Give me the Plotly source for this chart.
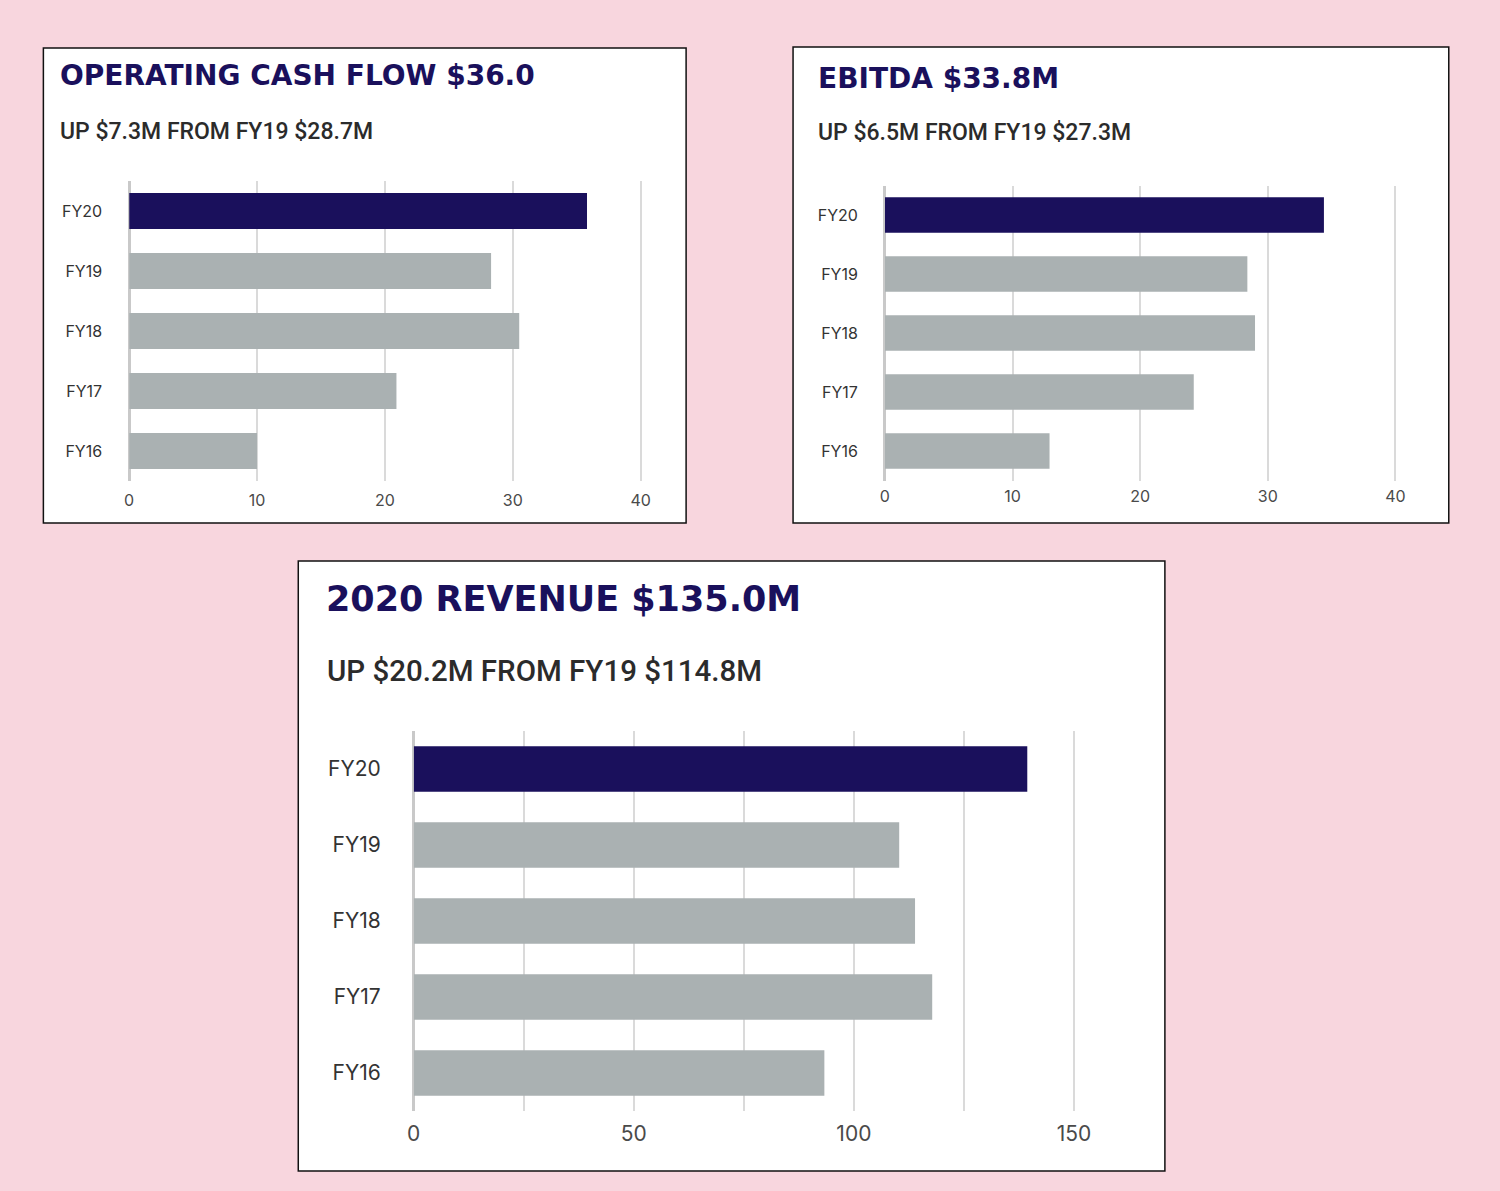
import plotly.graph_objects as go

# data
years = ["FY20", "FY19", "FY18", "FY17", "FY16"]
cash_flow = [35.8, 28.3, 30.5, 20.9, 10.0]
ebitda = [34.4, 28.4, 29.0, 24.2, 12.9]
revenue = [139.4, 110.3, 113.9, 117.8, 93.3]

titles = ["OPERATING CASH FLOW $36.0", "EBITDA $33.8M", "2020 REVENUE $135.0M"]
subtitles = ["UP $7.3M FROM FY19 $28.7M", "UP $6.5M FROM FY19 $27.3M",
             "UP $20.2M FROM FY19 $114.8M"]

# figure sits inside the default 8px body margin
OFF = 8
W, H = 1484, 1172
NAVY = "#1a105c"
GREY = "#aab1b2"
PINK = "#f8d6de"


def px(x):
    # horizontal correction measured from a previous render
    x = (x - 6.7) / 0.9883
    return (x - OFF) / W


def py(y):
    return 1 - (y - OFF) / H


colors = [NAVY] + [GREY] * 4

fig = go.Figure()

panels = [
    # plot area (x at 0, x at max, top, bottom) in window pixels
    dict(vals=cash_flow, area=(128.8, 640.6, 181, 481), box=(43, 48, 686, 523),
         tpos=(58, 76), spos=(58, 131.5), tsize=28, ssize=23, ksize=16,
         xmax=40, tickvals=[0, 10, 20, 30, 40],
         ticktext=["0", "10", "20", "30", "40"], ystand=26, xstand=8),
    dict(vals=ebitda, area=(884.9, 1395.6, 185.5, 480.5), box=(793, 47, 1449, 523),
         tpos=(816, 78), spos=(816, 133), tsize=28, ssize=23, ksize=16,
         xmax=40, tickvals=[0, 10, 20, 30, 40],
         ticktext=["0", "10", "20", "30", "40"], ystand=26, xstand=4),
    dict(vals=revenue, area=(413.5, 1074, 731, 1111), box=(298, 561, 1165, 1171),
         tpos=(324, 599), spos=(325, 670.5), tsize=35, ssize=29.5, ksize=21,
         xmax=150, tickvals=[0, 25, 50, 75, 100, 125, 150],
         ticktext=["0", "", "50", "", "100", "", "150"], ystand=32, xstand=8),
]

shapes = []
annotations = []
for i, p in enumerate(panels):
    n = "" if i == 0 else str(i + 1)
    fig.add_trace(go.Bar(
        x=p["vals"], y=years, orientation="h",
        marker=dict(color=colors, line=dict(width=0)),
        xaxis="x" + n, yaxis="y" + n, showlegend=False, hoverinfo="x+y",
    ))
    x0, x1, y0, y1 = p["area"]
    # small overshoot so the last gridline is drawn
    over = 1.01
    x1e = x0 + (x1 - x0) * over
    fig.update_layout(**{
        "xaxis" + n: dict(
            domain=[px(x0), px(x1e)], anchor="y" + n, range=[0, p["xmax"] * over],
            tickvals=p["tickvals"], ticktext=p["ticktext"],
            showgrid=True, gridcolor="#dadada", gridwidth=1.5,
            zeroline=True, zerolinecolor="#c9c9c9", zerolinewidth=2.5,
            showline=False, ticks="", ticklabelstandoff=p["xstand"],
            tickfont=dict(family="Inter", size=p["ksize"], color="#4a4a4a"),
            fixedrange=True,
        ),
        "yaxis" + n: dict(
            domain=[py(y1), py(y0)], anchor="x" + n, autorange="reversed",
            showgrid=False, zeroline=False, showline=False, ticks="",
            ticklabelstandoff=p["ystand"],
            tickfont=dict(family="Inter", size=p["ksize"], color="#333333"),
            fixedrange=True,
        ),
    })
    bx0, by0, bx1, by1 = p["box"]
    shapes.append(dict(type="rect", xref="paper", yref="paper", layer="below",
                       x0=px(bx0), x1=px(bx1), y0=py(by1), y1=py(by0),
                       fillcolor="white", line=dict(color="#111111", width=1.5)))
    annotations.append(dict(text=titles[i], xref="paper", yref="paper",
                            x=px(p["tpos"][0]), y=py(p["tpos"][1]),
                            xanchor="left", yanchor="middle", showarrow=False,
                            font=dict(family="DejaVu Sans", size=p["tsize"],
                                      color=NAVY, weight=700)))
    annotations.append(dict(text=subtitles[i], xref="paper", yref="paper",
                            x=px(p["spos"][0]), y=py(p["spos"][1]),
                            xanchor="left", yanchor="middle", showarrow=False,
                            font=dict(family="Roboto", size=p["ssize"],
                                      color="#2b2b2b", weight=500)))

fig.update_layout(
    width=W, height=H,
    margin=dict(l=0, r=0, t=0, b=0),
    paper_bgcolor=PINK, plot_bgcolor="rgba(0,0,0,0)",
    bargap=0.4,
    shapes=shapes, annotations=annotations,
)

fig.write_html("out.html", config={"displayModeBar": False},
               post_script="document.body.style.background='#f8d6de';")
